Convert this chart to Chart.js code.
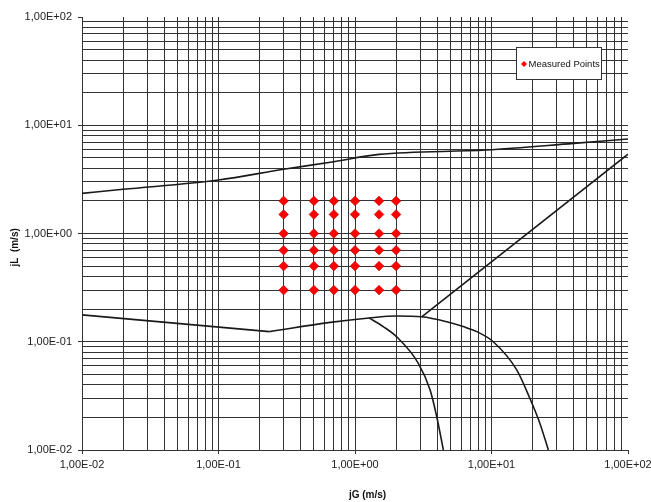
<!DOCTYPE html>
<html>
<head>
<meta charset="utf-8">
<script src="https://cdn.jsdelivr.net/npm/chart.js@4.4.1/dist/chart.umd.min.js"></script>
<style>
    html, body { margin: 0; padding: 0; background: #fff; }
    #flow-map { position: relative; width: 651px; height: 502px; }
</style>
</head>
<body>
<div id="flow-map"><canvas></canvas></div>
<script>
// measured grid of test points
const measuredJG = [0.3, 0.5, 0.7, 1.0, 1.5, 2.0];
const measuredJL = [2.0, 1.5, 1.0, 0.7, 0.5, 0.3];

// upper transition boundary
const upperJG = [0.01, 0.02, 0.1, 0.3, 0.66, 1.5, 9.2, 40, 100];
const upperJL = [2.35, 2.56, 3.12, 3.92, 4.55, 5.38, 5.9, 6.8, 7.46];

// diagonal boundary
const diagJG = [3.08, 100];
const diagJL = [0.170, 5.4];

// lower boundary, left straight part
const lowLeftJG = [0.01, 0.236];
const lowLeftJL = [0.177, 0.124];

// lower boundary, curved part
const lowRightJG = [0.236, 0.658, 1.27, 2.02, 3.08, 4.7, 6.2, 7.8, 10.3, 15.3, 19.1, 22.6, 26.1];
const lowRightJL = [0.124, 0.151, 0.166, 0.173, 0.170, 0.153, 0.138, 0.124, 0.100, 0.055, 0.030, 0.0177, 0.01];

// inner falling curve
const innerJG = [1.27, 1.61, 2.02, 2.91, 3.55, 3.97, 4.44];
const innerJL = [0.166, 0.138, 0.111, 0.0632, 0.0358, 0.0203, 0.01];

// axis ticks
const decadeValues = [0.01, 0.1, 1, 10, 100];
const decadeLabels = ["1,00E-02", "1,00E-01", "1,00E+00", "1,00E+01", "1,00E+02"];
const minorSteps = [2, 3, 4, 5, 6, 7, 8, 9];

const lineColor = '#1a1a1a';
const gridColor = '#333';

var flowChart;

function pairs(xs, ys) {
    return xs.map((x, i) => ({x: x, y: ys[i]}));
}

function gridTicks() {
    const ticks = [];
    decadeValues.forEach((d, i) => {
        ticks.push({value: d});
        if (i < decadeValues.length - 1) {
            minorSteps.forEach(m => ticks.push({value: parseFloat((m * d).toPrecision(3))}));
        }
    });
    return ticks;
}

function decadeLabel(value) {
    const i = decadeValues.findIndex(d => Math.abs(d - value) < d * 1e-6);
    return i >= 0 ? decadeLabels[i] : '';
}

function isDecade(value) {
    return decadeLabel(value) !== '';
}

function curve(label, xs, ys, smooth) {
    return {
        label: label,
        data: pairs(xs, ys),
        showLine: true,
        borderColor: lineColor,
        borderWidth: 1.6,
        pointRadius: 0,
        cubicInterpolationMode: smooth ? 'monotone' : 'default',
        tension: 0,
        fill: false,
    };
}

// draws the small boxed legend inside the plot
const boxLegend = {
    id: 'boxLegend',
    afterDraw(chart) {
        const ctx = chart.ctx;
        const ds = chart.data.datasets[0];
        ctx.save();
        ctx.fillStyle = '#fff';
        ctx.fillRect(516, 47, 86, 33);
        ctx.strokeStyle = '#333';
        ctx.lineWidth = 1;
        ctx.strokeRect(516.5, 47.5, 85, 32);
        ctx.beginPath();
        ctx.moveTo(524, 61);
        ctx.lineTo(527, 64);
        ctx.lineTo(524, 67);
        ctx.lineTo(521, 64);
        ctx.closePath();
        ctx.fillStyle = ds.backgroundColor;
        ctx.fill();
        ctx.fillStyle = '#111';
        ctx.font = '9.5px "Liberation Sans", Arial, sans-serif';
        ctx.textBaseline = 'middle';
        ctx.fillText(ds.label, 528.5, 64.5);
        ctx.restore();
    }
};

function initFlowChart() {
    const points = [];
    measuredJL.forEach(jl => measuredJG.forEach(jg => points.push({x: jg, y: jl})));

    const datasets = [
        {
            label: 'Measured Points',
            data: points,
            pointStyle: 'rectRot',
            pointRadius: 4.8,
            backgroundColor: '#ff0000',
            borderColor: '#b00000',
            borderWidth: 0.6,
            showLine: false,
        },
        curve('upper', upperJG, upperJL, true),
        curve('diagonal', diagJG, diagJL, false),
        curve('lower left', lowLeftJG, lowLeftJL, false),
        curve('lower right', lowRightJG, lowRightJL, true),
        curve('inner', innerJG, innerJL, true),
    ];

    const tickFont = {family: '"Liberation Sans", Arial, sans-serif', size: 11};
    const titleFont = {family: '"Liberation Sans", Arial, sans-serif', size: 10, weight: 'bold'};

    const axis = (titleText, titlePadding, tickPadding, fit) => ({
        type: 'logarithmic',
        min: 0.01,
        max: 100,
        afterBuildTicks: scale => { scale.ticks = gridTicks(); },
        afterFit: fit,
        ticks: {
            autoSkip: false,
            maxRotation: 0,
            padding: tickPadding,
            color: '#222',
            font: tickFont,
            callback: value => decadeLabel(value),
        },
        grid: {
            color: c => (c.tick && c.tick.value >= 100) ? 'rgba(0,0,0,0)' : gridColor,
            lineWidth: 1,
            tickLength: 4,
            tickColor: c => (c.tick && isDecade(c.tick.value)) ? '#333' : 'rgba(0,0,0,0)',
        },
        border: {display: true, color: '#333', width: 1},
        title: {
            display: true,
            text: titleText,
            color: '#111',
            font: titleFont,
            padding: titlePadding,
        },
    });

    const context = $canvas().getContext('2d');
    flowChart = new Chart(context, {
        type: 'scatter',
        data: {datasets: datasets},
        options: {
            responsive: true,
            maintainAspectRatio: false,
            animation: false,
            layout: {padding: {top: 17, left: 3, right: 0, bottom: 0}},
            plugins: {
                legend: {display: false},
                tooltip: {enabled: false},
            },
            scales: {
                x: axis('         jG (m/s)', {top: 17.8, bottom: 1}, 4, s => {
                    s.height = 52;
                    s.paddingRight = 23;
                }),
                y: axis('jL  (m/s)          ', {top: 6, bottom: 3.3}, 6, s => {
                    s.width = 79;
                }),
            },
        },
        plugins: [boxLegend],
    });
}

function $canvas() {
    return document.querySelector('#flow-map canvas');
}

initFlowChart();
</script>
</body>
</html>
